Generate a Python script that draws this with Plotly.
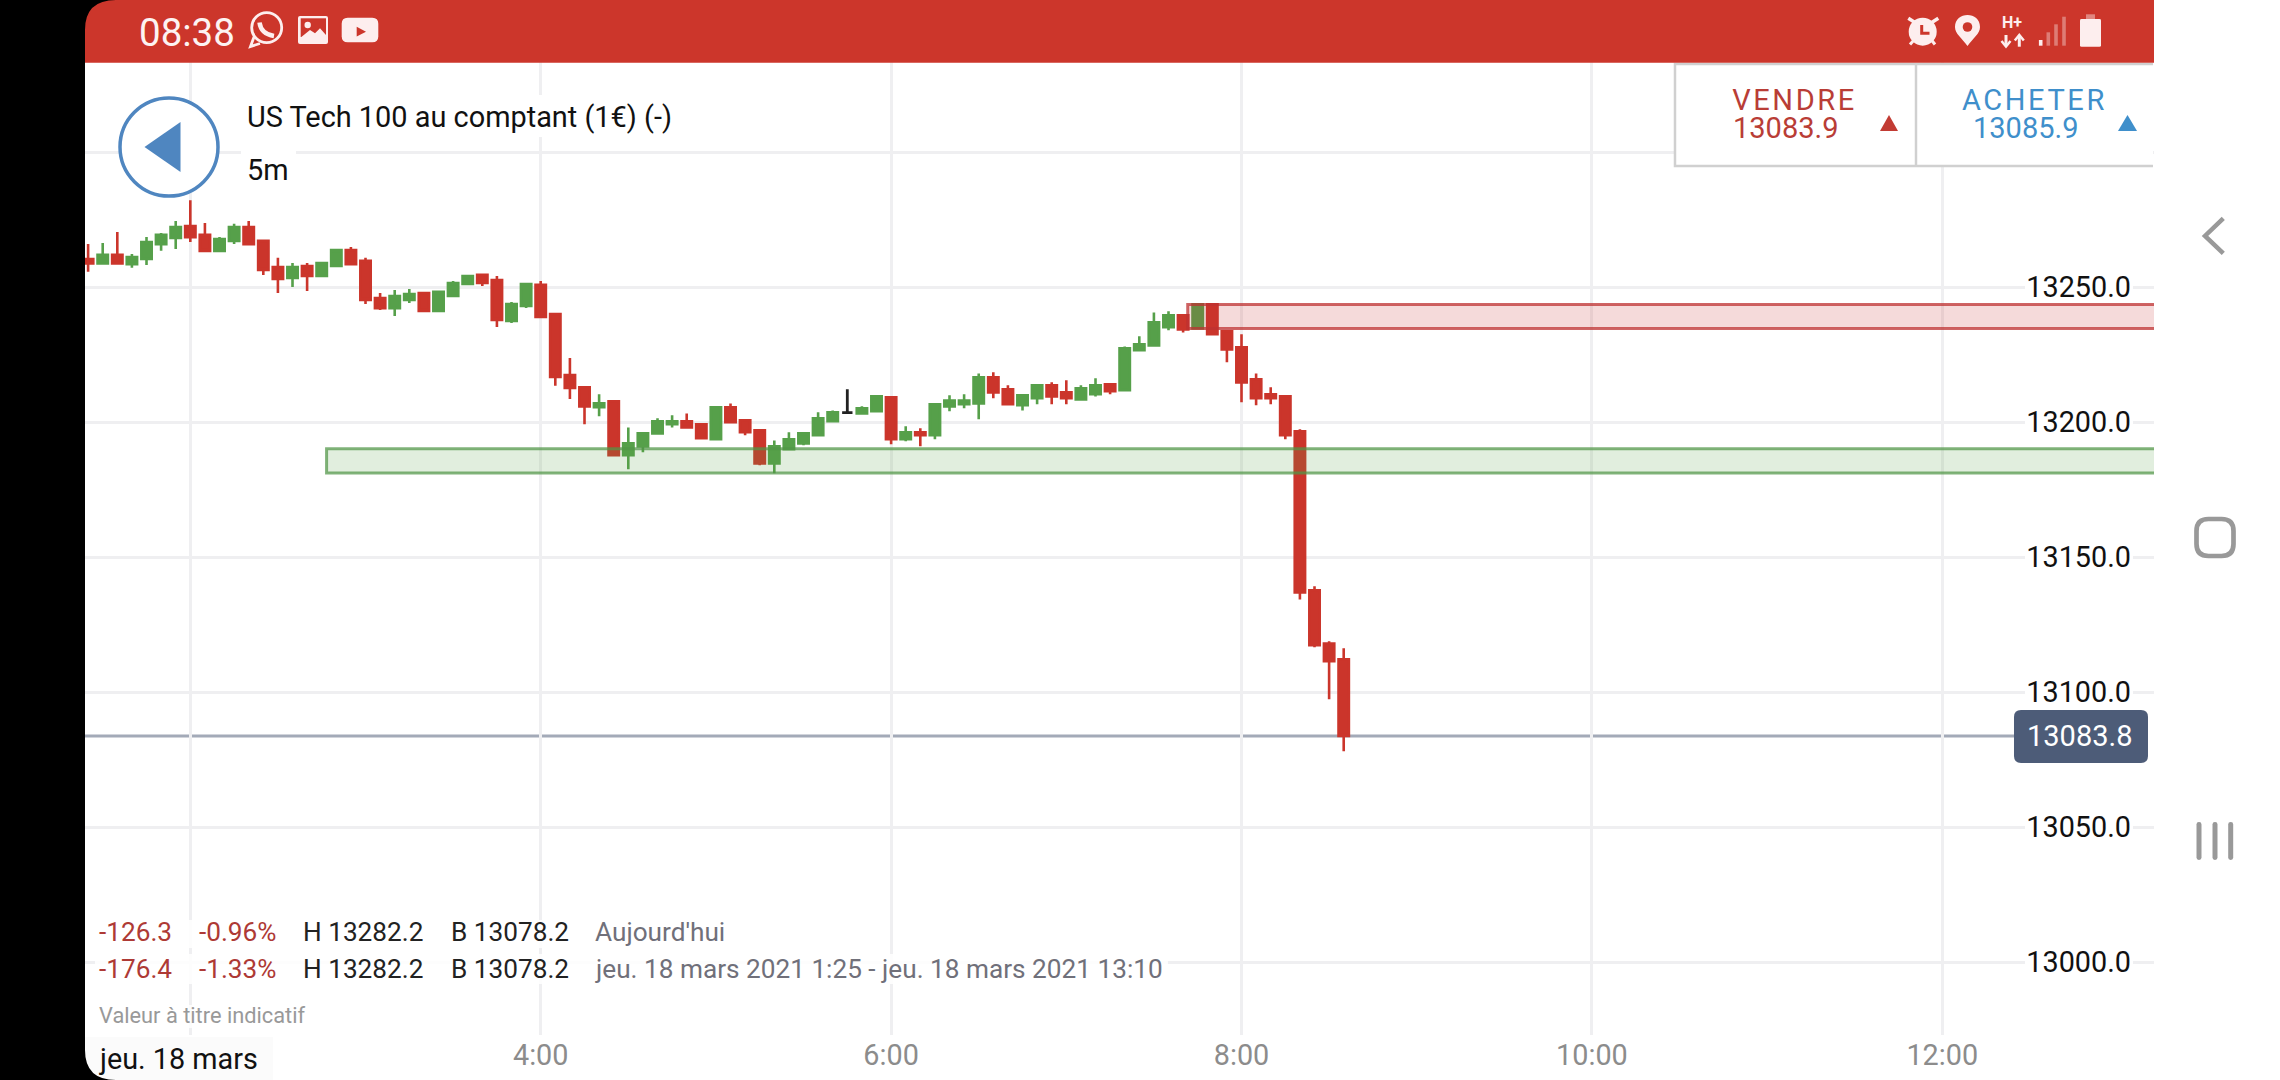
import plotly.graph_objects as go
import pandas as pd

# ---------- data ----------
times = pd.date_range("2021-03-18 01:25", "2021-03-18 08:35", freq="5min").strftime("%Y-%m-%d %H:%M").tolist()
DOJI_TIME = "2021-03-18 05:45"
opens = [13260.5,13258.8,13262.0,13258.6,13260.5,13266.0,13268.3,13272.7,13269.4,13263.5,13267.2,13272.3,13267.2,13257.5,13253.5,13257.9,13254.2,13257.9,13263.8,13259.8,13246.0,13242.3,13245.3,13247.9,13241.2,13246.8,13251.2,13254.6,13252.7,13237.5,13243.1,13250.9,13240.1,13217.5,
         13213.0,13205.6,13207.8,13187.8,13191.1,13195.9,13199.3,13200.4,13199.3,13193.7,13205.6,13200.7,13197.0,13184.8,13190.0,13192.2,13195.2,13200.4,13203.6,13203.3,13204.1,13209.3,13193.7,13196.3,13195.2,13205.9,13206.7,13207.0,13216.7,13212.2,13206.3,13208.9,13213.7,
         13211.1,13208.5,13210.4,13214.1,13211.9,13226.7,13228.5,13235.2,13239.6,13234.8,13243.7,13233.7,13227.8,13215.9,13210.4,13209.6,13196.7,13137.8,13118.1,13112.2]
highs = [13266.0,13266.4,13270.5,13262.3,13268.6,13270.1,13274.6,13282.2,13273.8,13268.6,13273.5,13274.6,13267.5,13260.9,13259.0,13259.0,13259.0,13263.8,13264.9,13260.9,13247.9,13249.0,13249.4,13247.9,13248.3,13252.3,13254.2,13254.6,13254.2,13244.6,13251.6,13252.3,13240.1,13223.8,
         13213.0,13210.4,13207.8,13198.1,13195.9,13201.5,13202.6,13203.3,13199.3,13205.6,13207.0,13200.7,13197.0,13193.3,13196.3,13195.9,13203.7,13204.4,13212.2,13205.9,13209.6,13209.3,13198.5,13197.8,13207.0,13210.0,13210.4,13218.1,13218.5,13213.7,13210.0,13213.7,13214.8,
         13215.6,13213.7,13216.3,13214.1,13228.1,13231.9,13240.7,13241.1,13239.6,13243.7,13243.7,13233.7,13232.6,13218.1,13213.0,13209.6,13197.4,13139.3,13118.9,13116.3]
lows = [13255.8,13258.8,13258.8,13257.2,13258.3,13263.5,13264.2,13266.8,13263.5,13263.5,13266.0,13266.0,13254.6,13247.9,13250.1,13248.6,13254.2,13257.9,13258.6,13243.8,13241.6,13239.4,13244.2,13241.2,13241.2,13246.8,13251.2,13250.5,13235.3,13236.8,13242.3,13239.0,13213.5,13208.6,
        13199.3,13202.2,13187.4,13182.6,13188.9,13195.6,13198.1,13198.1,13194.1,13193.7,13200.0,13195.2,13184.1,13181.1,13190.0,13191.5,13195.2,13200.4,13203.6,13203.3,13204.1,13191.9,13193.0,13191.1,13193.7,13204.1,13205.2,13201.1,13208.9,13206.3,13204.4,13206.7,13206.7,
        13206.7,13208.5,13209.6,13210.4,13211.9,13226.7,13228.5,13234.1,13233.3,13234.8,13232.2,13222.2,13207.4,13206.3,13206.7,13193.7,13134.4,13116.7,13097.4,13078.2]
closes = [13258.8,13262.0,13258.8,13261.2,13266.8,13269.4,13272.3,13268.6,13263.5,13267.9,13272.3,13266.0,13256.4,13253.1,13257.5,13254.2,13259.0,13263.8,13258.6,13245.3,13242.3,13246.8,13247.5,13241.2,13248.3,13251.6,13254.2,13251.6,13237.9,13243.8,13251.2,13239.0,13216.8,13212.7,
          13205.9,13207.0,13187.8,13192.2,13195.9,13200.4,13200.4,13198.1,13194.1,13205.6,13200.0,13196.3,13184.8,13191.1,13193.7,13195.9,13201.5,13203.7,13203.6,13205.2,13209.6,13193.7,13196.3,13195.2,13206.7,13208.1,13208.1,13216.7,13211.1,13206.7,13210.0,13213.7,13209.6,
          13208.9,13212.6,13213.7,13211.5,13227.4,13228.9,13237.0,13239.6,13234.4,13243.7,13232.6,13227.0,13214.8,13208.9,13208.9,13195.2,13137.0,13117.4,13111.5,13083.8]

y_ticks = [13000, 13050, 13100, 13150, 13200, 13250, 13300]
y_tick_labels = ["13000.0", "13050.0", "13100.0", "13150.0", "13200.0", "13250.0", ""]
x_ticks = ["2021-03-18 02:00", "2021-03-18 04:00", "2021-03-18 06:00", "2021-03-18 08:00", "2021-03-18 10:00", "2021-03-18 12:00"]
x_tick_labels = ["", "4:00", "6:00", "8:00", "10:00", "12:00"]
sell_zone = ("2021-03-18 07:41:35", 13243.6, 13234.7)
buy_zone = ("2021-03-18 02:46:40", 13190.2, 13181.2)
last_price = 13083.8

# ---------- palette / geometry ----------
W, H = 2280, 1080
L, R, T, B = 85, 2154, 62, 1035
RED = "#CB352B"; GREEN = "#56A04A"; BAR = "#CC362B"; ICON = "#FDEEEE"; NAV = "#999999"
FONT = "Roboto"

base = pd.Timestamp("2021-03-18 04:00")
def tx(px):
    return (base + pd.Timedelta(hours=(px - 540.7) / 175.2)).strftime("%Y-%m-%d %H:%M:%S")
def vy(py):
    return 13250 - (py - 287.3) / 2.7
def fx(px): return px / W
def fy(py): return 1 - py / H

def path(d):
    out, is_x = [], True
    for tok in d.split():
        if tok.isalpha():
            out.append(tok); is_x = True
        else:
            v = float(tok)
            out.append(f"{fx(v):.6f}" if is_x else f"{fy(v):.6f}")
            is_x = not is_x
    return " ".join(out)

shapes = []
def add_path(d, fill=None, line=None, lw=0):
    s = dict(type="path", xref="paper", yref="paper", path=path(d), layer="above",
             line=dict(width=lw, color=line or "rgba(0,0,0,0)"))
    if fill: s["fillcolor"] = fill
    shapes.append(s)
def add_rect(x0, y0, x1, y1, fill=None, line=None, lw=0):
    add_path(f"M {x0} {y0} L {x1} {y0} L {x1} {y1} L {x0} {y1} Z", fill, line, lw)
def add_round(x0, y0, x1, y1, r, fill=None, line=None, lw=0):
    add_path(f"M {x0+r} {y0} L {x1-r} {y0} Q {x1} {y0} {x1} {y0+r} L {x1} {y1-r} Q {x1} {y1} {x1-r} {y1} "
             f"L {x0+r} {y1} Q {x0} {y1} {x0} {y1-r} L {x0} {y0+r} Q {x0} {y0} {x0+r} {y0} Z", fill, line, lw)
def add_oval(cx, cy, r, fill=None, line=None, lw=0):
    s = dict(type="circle", xref="paper", yref="paper", layer="above",
             x0=fx(cx - r), x1=fx(cx + r), y0=fy(cy + r), y1=fy(cy - r),
             line=dict(width=lw, color=line or "rgba(0,0,0,0)"))
    if fill: s["fillcolor"] = fill
    shapes.append(s)
def add_mask(x0, y0, x1, y1, fill="white", opacity=1.0):
    shapes.append(dict(type="rect", xref="x", yref="y", layer="between", x0=tx(x0), x1=tx(x1), y0=vy(y1), y1=vy(y0),
                       fillcolor=fill, opacity=opacity, line=dict(width=0)))

annotations = []
def ann(px, py, text, size, color, anchor="left", **kw):
    annotations.append(dict(x=fx(px), y=fy(py), xref="paper", yref="paper", text=text, showarrow=False,
                            xanchor=anchor, yanchor="middle", borderpad=0, borderwidth=0,
                            font=dict(family=FONT, size=size, color=color), **kw))

# gridline masks (between gridlines and candles)
add_mask(241, 95, 680, 137)
add_mask(241, 148, 296, 192)
add_mask(95, 920, 735, 948, opacity=0.85)
add_mask(95, 954, 1168, 984, opacity=0.85)
add_mask(95, 1005, 310, 1028, opacity=0.8)
for v in y_ticks[:-1]:
    py = 287.3 + (13250 - v) * 2.7
    add_mask(2025, py - 12, 2133, py + 12)

# zones
for (zx, z1, z0), fill, edge in [(sell_zone, "rgba(200,50,50,0.18)", "rgba(190,50,50,0.75)"),
                                 (buy_zone, "rgba(86,160,74,0.18)", "rgba(80,150,70,0.72)")]:
    shapes.append(dict(type="rect", xref="x", yref="y", layer="above", x0=zx, x1=tx(2160), y0=z0, y1=z1,
                       fillcolor=fill, line=dict(width=3, color=edge)))

# last price line and tag
shapes.append(dict(type="line", xref="paper", yref="y", layer="below", x0=fx(L), x1=fx(2016), y0=last_price, y1=last_price,
                   line=dict(width=3, color="#A3AAB8")))
add_round(2014, 710, 2148, 763, 7, fill="#4D5C78")
annotations.append(dict(x=fx(2079.5), y=last_price, xref="paper", yref="y", text=f"{last_price:.1f}", showarrow=False,
                        xanchor="center", yanchor="middle", font=dict(family=FONT, size=29, color="white")))

# header back button
add_oval(169, 147, 49, fill="white", line="#4F86C0", lw=3.5)
add_path("M 144.5 147 L 180.5 122 L 180.5 172 Z", fill="#4F86C0")
ann(246.5, 117, "US Tech 100 au comptant (1€) (-)", 28.9, "#111111")
ann(246.5, 170.5, "5m", 28.9, "#111111")

# sell / buy box
add_rect(1675, 64, 2153, 166, fill="white")
add_path("M 2153 64 L 1675 64 L 1675 166 L 2153 166", line="#D0D0D0", lw=2.5)
add_path("M 1916 64 L 1916 166", line="#D0D0D0", lw=2.5)
add_path("M 1880 131 L 1889 115 L 1898 131 Z", fill="#C23B33")
add_path("M 2118 131 L 2127.5 115 L 2137 131 Z", fill="#3F8FCB")
ann(1794, 100, "VENDRE", 29, "#B93D36", "center")
ann(1785, 128, "13083.9", 29, "#B93D36", "center")
ann(2034, 100, "ACHETER", 29, "#3F8FCB", "center")
ann(2025.5, 128, "13085.9", 29, "#3F8FCB", "center")

# status bar
add_rect(L, 0, R, 62.7, fill=BAR)
ann(138.5, 32, "08:38", 38.5, "#FDF3F2")
add_oval(266.7, 27.7, 15, line=ICON, lw=2.8)
add_path("M 254 37 L 250.5 46.5 L 260 43.5", line=ICON, lw=2.8)
add_path("M 259.5 22.5 Q 261 34 274 36", line=ICON, lw=4.5)
add_round(298, 16, 328, 44, 2, fill=ICON)
add_rect(300.7, 18.3, 326, 37, fill=BAR)
add_oval(307.7, 25, 3.2, fill=ICON)
add_path("M 300.7 37.5 L 310 30 L 315 33.3 L 320 28.3 L 326 35 L 326 42 L 300.7 42 Z", fill=ICON)
add_round(341.7, 17.7, 378.3, 42.3, 6, fill=ICON)
add_path("M 356.7 26.7 L 366 31.7 L 356.7 36.5 Z", fill=BAR)

add_oval(1922.7, 31.7, 14, fill=ICON)
add_path("M 1921.7 25 L 1921.7 33.3 L 1929.5 33.3", line=BAR, lw=3)
add_path("M 1908.3 18.3 L 1915 22.5", line=ICON, lw=3.5)
add_path("M 1938.3 18.3 L 1931.7 22.5", line=ICON, lw=3.5)
add_path("M 1910 44.5 L 1914 40", line=ICON, lw=3)
add_path("M 1935 44.5 L 1931.5 40", line=ICON, lw=3)
add_path("M 1967.5 46 C 1962 38 1955 34 1955 27 C 1955 19 1961 15 1967.5 15 C 1974 15 1980 19 1980 27 C 1980 34 1973 38 1967.5 46 Z", fill=ICON)
add_oval(1967.5, 27, 4.8, fill=BAR)
ann(2012.3, 23, "<b>H+</b>", 16, ICON, "center")
add_path("M 2006 35 L 2006 46", line=ICON, lw=3)
add_path("M 2001.5 41 L 2006 46.5 L 2010.5 41", line=ICON, lw=2.5)
add_path("M 2019.3 36 L 2019.3 46.7", line=ICON, lw=3)
add_path("M 2014.8 40.5 L 2019.3 35 L 2023.8 40.5", line=ICON, lw=2.5)
for xc, top, col in [(2040.7, 40, ICON), (2048.3, 32.3, "rgba(255,255,255,0.35)"),
                     (2056, 24.3, "rgba(255,255,255,0.35)"), (2064, 16.7, "rgba(255,255,255,0.35)")]:
    add_rect(xc - 1.8, top, xc + 1.8, 45.7, fill=col)
add_round(2080, 19, 2101, 46.7, 1.5, fill=ICON)
add_rect(2086, 14.3, 2095, 19, fill="rgba(255,255,255,0.4)")

# bottom info lines
INFO_RED = "#AE3A35"; DARK = "#222222"; GREY = "#70707A"
for py, a, b, c, d, e in [(932, "-126.3", "-0.96%", "H 13282.2", "B 13078.2", "Aujourd'hui"),
                          (969, "-176.4", "-1.33%", "H 13282.2", "B 13078.2", "jeu. 18 mars 2021 1:25 - jeu. 18 mars 2021 13:10")]:
    ann(99, py, a, 26.2, INFO_RED); ann(199, py, b, 26.2, INFO_RED)
    ann(303, py, c, 26.2, DARK); ann(450.5, py, d, 26.2, DARK); ann(595, py, e, 26.2, GREY)
ann(99, 1015.5, "Valeur à titre indicatif", 21.8, "#999999")

# date chip
add_rect(L, 1037, 273, 1080, fill="#FBFBFB")
ann(99, 1059, "jeu. 18 mars", 28.8, "#111111")

# phone frame and navigation
add_path("M 0 0 L 116 0 Q 85 0 85 30 L 85 1050 Q 85 1080 116 1080 L 0 1080 Z", fill="black")
add_path("M 2223.3 218.3 L 2205 236 L 2223.3 253.3", line=NAV, lw=4.5)
add_round(2196.5, 519, 2233.5, 556, 12, line=NAV, lw=4.7)
for xc in (2199, 2215, 2230.7):
    add_round(xc - 2.5, 822, xc + 2.5, 860, 2.4, fill=NAV)

# ---------- traces ----------
keep = [i for i, t in enumerate(times) if t != DOJI_TIME]
doji = times.index(DOJI_TIME)
def pick(seq, idx): return [seq[i] for i in idx]
fig = go.Figure()
fig.add_trace(go.Candlestick(
    x=pick(times, keep), open=pick(opens, keep), high=pick(highs, keep), low=pick(lows, keep), close=pick(closes, keep),
    increasing=dict(line=dict(color=GREEN, width=2.6), fillcolor=GREEN),
    decreasing=dict(line=dict(color=RED, width=2.6), fillcolor=RED),
    whiskerwidth=0, hoverinfo="skip", showlegend=False))
fig.add_trace(go.Candlestick(
    x=[times[doji]], open=[opens[doji]], high=[highs[doji]], low=[lows[doji]], close=[closes[doji]],
    increasing=dict(line=dict(color="#222222", width=2.8), fillcolor="#222222"),
    decreasing=dict(line=dict(color="#222222", width=2.8), fillcolor="#222222"),
    whiskerwidth=0, hoverinfo="skip", showlegend=False))

fig.update_layout(
    width=W, height=H, margin=dict(l=0, r=0, t=0, b=0), autosize=False,
    paper_bgcolor="white", plot_bgcolor="white", showlegend=False, boxgap=0.29, boxgroupgap=0,
    font=dict(family=FONT), shapes=shapes, annotations=annotations,
    xaxis=dict(type="date", domain=[fx(L), fx(R)], range=[tx(L), tx(R)], rangeslider=dict(visible=False),
               tickmode="array", tickvals=x_ticks, ticktext=x_tick_labels,
               showgrid=True, gridcolor="#EFEFF1", gridwidth=3, zeroline=False, showline=False, ticks="",
               tickfont=dict(family=FONT, size=28.8, color="#8C8C8C")),
    yaxis=dict(domain=[fy(B), fy(T)], range=[vy(B), vy(T)], side="right",
               tickmode="array", tickvals=y_ticks, ticktext=y_tick_labels, ticklabelposition="inside",
               ticklabelstandoff=20, ticks="",
               showgrid=True, gridcolor="#EFEFF1", gridwidth=3, zeroline=False, showline=False,
               tickfont=dict(family=FONT, size=28.8, color="#111111")),
)

post = """
document.body.style.margin='0';
document.documentElement.style.overflow='hidden';
document.querySelectorAll('.annotation-text').forEach(function(t){
  if(t.textContent==='VENDRE'||t.textContent==='ACHETER'){t.style.letterSpacing='2.6px';}
});
"""
fig.write_html("out.html", post_script=post, config=dict(displayModeBar=False))
